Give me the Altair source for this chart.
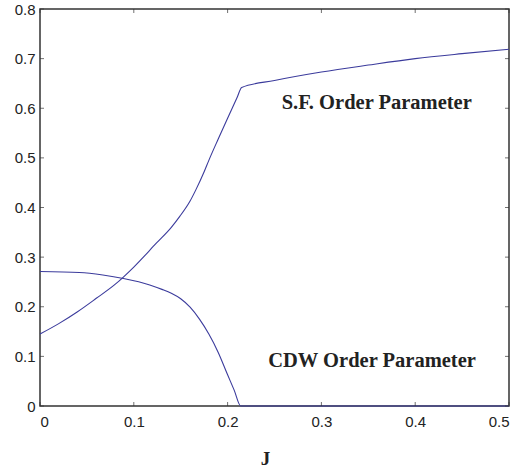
import altair as alt
import pandas as pd

# S.F. order parameter curve
sf_j = [0.0, 0.02, 0.04, 0.06, 0.08, 0.1, 0.124, 0.14, 0.149, 0.16, 0.166, 0.175, 0.18, 0.19, 0.2, 0.21, 0.215,
        0.25, 0.3, 0.35, 0.4, 0.45, 0.5]
sf_v = [0.145, 0.166, 0.19, 0.217, 0.245, 0.28, 0.328, 0.36, 0.382, 0.413, 0.435, 0.472, 0.495, 0.538, 0.58, 0.621, 0.642,
        0.656, 0.673, 0.687, 0.700, 0.710, 0.719]

# CDW order parameter curve
cdw_j = [0.0, 0.042, 0.067, 0.089, 0.117, 0.13, 0.14, 0.15, 0.16, 0.17, 0.18, 0.19, 0.2, 0.207, 0.214,
         0.3, 0.4, 0.5]
cdw_v = [0.271, 0.269, 0.264, 0.257, 0.244, 0.235, 0.227, 0.216, 0.199, 0.175, 0.145, 0.108, 0.063, 0.032, 0.0,
         0.0, 0.0, 0.0]

x_ticks = [0.0, 0.1, 0.2, 0.3, 0.4, 0.5]
y_ticks = [0.0, 0.1, 0.2, 0.3, 0.4, 0.5, 0.6, 0.7, 0.8]

labels = ["S.F. Order Parameter", "CDW Order Parameter"]
label_j = [0.359, 0.354]
label_v = [0.611, 0.091]

W, H = 469, 397
LINE = "#3b3b9c"
AX = "#333333"

df = pd.DataFrame(
    {"J": sf_j + cdw_j, "v": sf_v + cdw_v,
     "series": ["SF"] * len(sf_j) + ["CDW"] * len(cdw_j)}
)
lab_df = pd.DataFrame({"J": label_j, "v": label_v, "text": labels})
xt = pd.DataFrame({"t": x_ticks})
yt = pd.DataFrame({"t": y_ticks})

xscale = alt.Scale(domain=[0, 0.5], nice=False, zero=False)
yscale = alt.Scale(domain=[0, 0.8], nice=False, zero=False)

xaxis = alt.Axis(values=x_ticks, format=".1~f", grid=False, domain=False, ticks=False,
                 labelFont="Liberation Sans", labelFontSize=15, labelColor="#222222",
                 labelPadding=8, title="J", titleFont="Liberation Serif", titleFontWeight="bold",
                 titleFontSize=19, titleColor="#222222", titleX=225, titleY=58,
                 titleBaseline="alphabetic")
yaxis = alt.Axis(values=y_ticks, format=".1~f", grid=False, domain=False, ticks=False,
                 labelFont="Liberation Sans", labelFontSize=15, labelColor="#222222",
                 labelPadding=5, title=None)

lines = alt.Chart(df).mark_line(color=LINE, strokeWidth=1.1, interpolate="monotone").encode(
    x=alt.X("J:Q", scale=xscale, axis=xaxis),
    y=alt.Y("v:Q", scale=yscale, axis=yaxis),
    detail="series:N",
)

text = alt.Chart(lab_df).mark_text(font="Liberation Serif", fontWeight="bold", fontSize=20.5,
                                   color="#222222", align="center", baseline="middle").encode(
    x=alt.X("J:Q", scale=xscale),
    y=alt.Y("v:Q", scale=yscale),
    text="text:N",
)

tb = alt.Chart(xt).mark_tick(orient="vertical", color=AX, thickness=1, size=4).encode(
    x=alt.X("t:Q", scale=xscale), y=alt.value(H - 2))
tt = alt.Chart(xt).mark_tick(orient="vertical", color=AX, thickness=1, size=4).encode(
    x=alt.X("t:Q", scale=xscale), y=alt.value(2))
tl = alt.Chart(yt).mark_tick(orient="horizontal", color=AX, thickness=1, size=4).encode(
    y=alt.Y("t:Q", scale=yscale), x=alt.value(2))
tr = alt.Chart(yt).mark_tick(orient="horizontal", color=AX, thickness=1, size=4).encode(
    y=alt.Y("t:Q", scale=yscale), x=alt.value(W - 2))

chart = alt.layer(lines, text, tb, tt, tl, tr).properties(
    width=W, height=H,
    autosize=alt.AutoSizeParams(type="none"),
    padding={"left": 40, "top": 9, "right": 10, "bottom": 62},
    background="white",
).configure_view(stroke=AX, strokeWidth=1.5)

chart.save("out.html", embed_options={"renderer": "svg", "actions": False})
